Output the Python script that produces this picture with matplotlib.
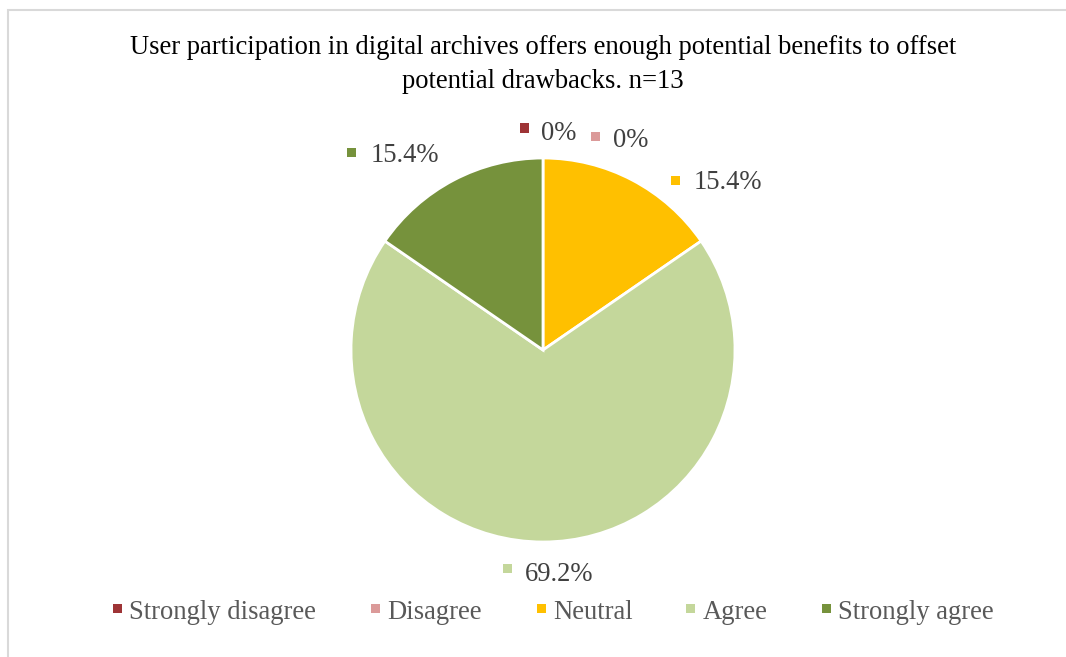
import matplotlib
matplotlib.use("Agg")
import matplotlib.pyplot as plt
from matplotlib.patches import Rectangle

categories = ["Strongly disagree", "Disagree", "Neutral", "Agree", "Strongly agree"]
values = [0.0, 0.0, 15.4, 69.2, 15.4]
labels = ["0%", "0%", "15.4%", "69.2%", "15.4%"]
colors = ["#9E3436", "#DB9A99", "#FFC000", "#C4D79B", "#76923C"]
title_lines = ["User participation in digital archives offers enough potential benefits to offset",
               "potential drawbacks. n=13"]

W, H = 1066, 657
fig = plt.figure(figsize=(W / 100, H / 100), dpi=100)
plt.rcParams['font.family'] = ['Liberation Serif', 'DejaVu Serif']

def fx(px):
    return px / W

def fy(py):
    return 1 - py / H

# chart frame (partly outside the image)
fig.add_artist(Rectangle((fx(8), fy(720)), fx(1100), (720 - 9.5) / H,
                         transform=fig.transFigure, fill=False,
                         edgecolor="#D9D9D9", linewidth=1.5))

cx, cy, r = 543, 350, 192
ax = fig.add_axes([fx(cx - r), fy(cy + r), 2 * r / W, 2 * r / H])
ax.pie(values, colors=colors, startangle=90, counterclock=False,
       wedgeprops=dict(edgecolor="white", linewidth=2))
ax.set_xlim(-1, 1)
ax.set_ylim(-1, 1)
ax.set_aspect("auto")
ax.axis("off")

FS = 19.2
for line, base in zip(title_lines, [54.5, 88]):
    fig.text(fx(543), fy(base), line, ha="center", va="baseline", fontsize=FS,
             color="black")

# data labels (marker square + text)
marker_pos = [(524, 128), (595.5, 136.5), (675, 180.5), (507, 568.5), (351.5, 152.5)]
text_pos = [(541, 140), (613, 147), (694, 189), (525, 581), (371, 162)]
s = 9
for (mx, my), (tx, ty), lab, col in zip(marker_pos, text_pos, labels, colors):
    fig.add_artist(Rectangle((fx(mx - s / 2), fy(my + s / 2)), s / W, s / H,
                             transform=fig.transFigure, facecolor=col,
                             edgecolor="none"))
    fig.text(fx(tx), fy(ty), lab, ha="left", va="baseline",
             fontsize=FS, color="#404040")

# legend
leg_marker_x = [117.5, 375.5, 541.5, 690.5, 826]
leg_text_x = [129, 387, 553, 703, 838]
leg_my, leg_base = 608.7, 619
for mx, tx, cat, col in zip(leg_marker_x, leg_text_x, categories, colors):
    fig.add_artist(Rectangle((fx(mx - s / 2), fy(leg_my + s / 2)), s / W, s / H,
                             transform=fig.transFigure, facecolor=col,
                             edgecolor="none"))
    fig.text(fx(tx), fy(leg_base), cat, ha="left", va="baseline",
             fontsize=FS, color="#595959")

fig.savefig("out.png", dpi=100)
